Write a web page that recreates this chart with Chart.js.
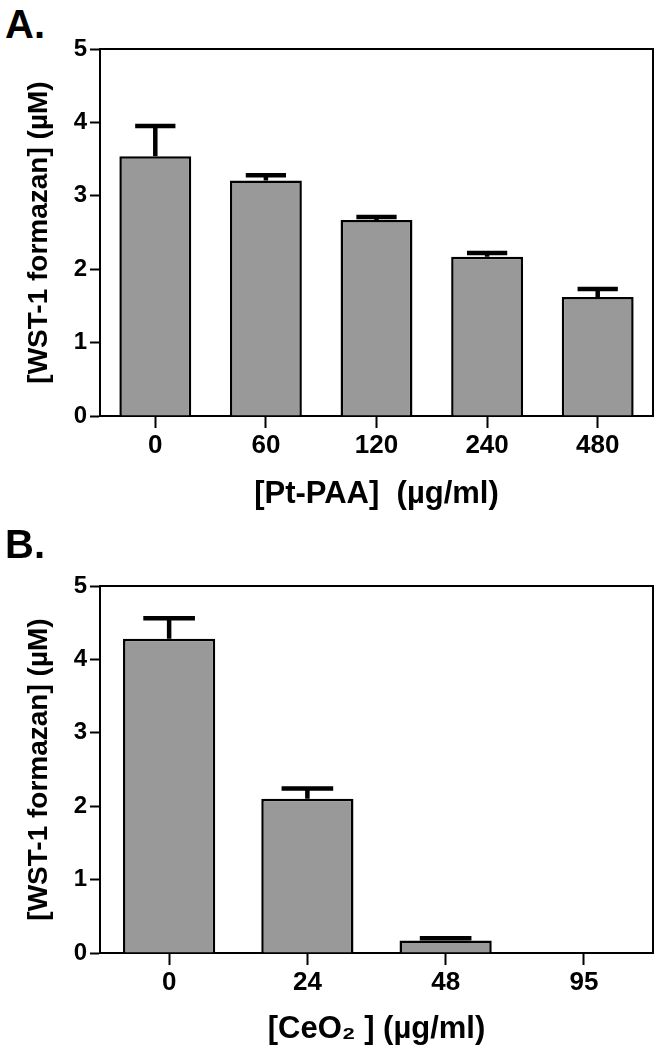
<!DOCTYPE html>
<html>
<head>
<meta charset="utf-8">
<script src="https://cdn.jsdelivr.net/npm/chart.js@4.4.0/dist/chart.umd.min.js"></script>
<style>
  body { margin: 0; background: #fff; }
  #wrap { position: relative; width: 661px; height: 1050px; }
  canvas { position: absolute; left: 0; }
  .panel { position: absolute; left: 5px; font: bold 40px 'Liberation Sans', Arial, sans-serif; color: #000; line-height: 46px; }
</style>
</head>
<body>
<div id="wrap">
  <div class="panel" style="top:1px">A.</div>
  <canvas id="chartA" width="661" height="537" style="top:0"></canvas>
  <div class="panel" style="top:521px">B.</div>
  <canvas id="chartB" width="661" height="513" style="top:537px"></canvas>
</div>
<script>
// panel A: Pt-PAA
const ptLabels = ["0", "60", "120", "240", "480"];
const ptMeans = [3.54, 3.21, 2.67, 2.17, 1.62];
const ptErr = [0.41, 0.07, 0.04, 0.05, 0.11];

// panel B: CeO2
const ceLabels = ["0", "24", "48", "95"];
const ceMeans = [4.28, 2.10, 0.17, 0];
const ceErr = [0.28, 0.14, 0.03, 0];

const yTicks = [0, 1, 2, 3, 4, 5];

Chart.defaults.font.family = "'Liberation Sans', Arial, sans-serif";
Chart.defaults.font.weight = 'bold';
Chart.defaults.color = '#000';

// upper error bars with caps
const errorBars = {
    id: 'errorBars',
    afterDatasetsDraw(chart) {
        const meta = chart.getDatasetMeta(0);
        const errs = chart.options.plugins.errorBars.err;
        const y = chart.scales.y;
        const ctx = chart.ctx;
        ctx.save();
        ctx.strokeStyle = '#000';
        ctx.lineWidth = 4.5;
        meta.data.forEach((bar, i) => {
            if (!errs[i]) return;
            const v = chart.data.datasets[0].data[i];
            const yTop = y.getPixelForValue(v + errs[i]);
            const half = bar.width * 0.28;
            ctx.beginPath();
            ctx.moveTo(bar.x, bar.y);
            ctx.lineTo(bar.x, yTop);
            ctx.moveTo(bar.x - half, yTop);
            ctx.lineTo(bar.x + half, yTop);
            ctx.stroke();
        });
        ctx.restore();
    }
};

// box frame around the plot
const frame = {
    id: 'frame',
    afterDraw(chart) {
        const a = chart.chartArea;
        const ctx = chart.ctx;
        ctx.save();
        ctx.strokeStyle = '#000';
        ctx.lineWidth = 2;
        ctx.beginPath();
        ctx.moveTo(a.left, a.top);
        ctx.lineTo(a.right, a.top);
        ctx.lineTo(a.right, a.bottom);
        ctx.stroke();
        ctx.restore();
    }
};

function drawChart(id, labels, means, errs, barPct, xTitle, xHeight, titlePad) {
    const ctx = document.getElementById(id).getContext('2d');
    return new Chart(ctx, {
        type: 'bar',
        data: {
            labels: labels,
            datasets: [{
                data: means,
                backgroundColor: '#999999',
                borderColor: '#000',
                borderWidth: 2.5,
                borderSkipped: 'bottom',
                barPercentage: barPct,
                categoryPercentage: 1
            }]
        },
        options: {
            responsive: false,
            animation: false,
            layout: { padding: { top: 49, right: 8, left: 0, bottom: 0 } },
            plugins: {
                legend: { display: false },
                tooltip: { enabled: false },
                errorBars: { err: errs }
            },
            scales: {
                x: {
                    afterFit: s => { s.height = xHeight; },
                    grid: { offset: false, drawOnChartArea: false, tickLength: 12, tickColor: '#000', tickWidth: 2 },
                    border: { color: '#000', width: 2 },
                    ticks: { font: { size: 26 }, padding: 2, maxRotation: 0 },
                    title: { display: true, text: xTitle, font: { size: 31 }, padding: { top: 0, bottom: titlePad } }
                },
                y: {
                    min: 0,
                    max: 5,
                    afterFit: s => { s.width = 100; },
                    afterBuildTicks: s => { s.ticks = yTicks.map(v => ({ value: v })); },
                    grid: { drawOnChartArea: false, tickLength: 10, tickColor: '#000', tickWidth: 2 },
                    border: { color: '#000', width: 2 },
                    ticks: { font: { size: 24 }, padding: 3 },
                    title: { display: true, text: '[WST-1 formazan] (\u00B5M)', font: { size: 28 }, padding: { top: 22, bottom: 0 } }
                }
            }
        },
        plugins: [errorBars, frame]
    });
}

let chartA = drawChart('chartA', ptLabels, ptMeans, ptErr, 0.65, '[Pt-PAA]  (\u00B5g/ml)', 121, 24);
let chartB = drawChart('chartB', ceLabels, ceMeans, ceErr, 0.667, '[CeO\u2082 ] (\u00B5g/ml)', 97, 2);
</script>
</body>
</html>
